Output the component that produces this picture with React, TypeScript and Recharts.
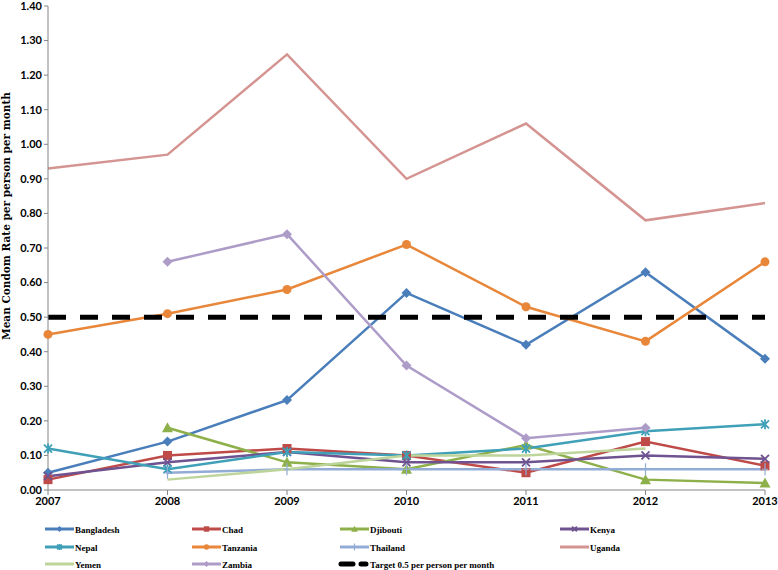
import React from 'react';
import { LineChart, Line, XAxis, YAxis } from 'recharts';

const years = ['2007', '2008', '2009', '2010', '2011', '2012', '2013'];
const bangladesh = [0.05, 0.14, 0.26, 0.57, 0.42, 0.63, 0.38];
const chad = [0.03, 0.1, 0.12, 0.1, 0.05, 0.14, 0.07];
const djibouti = [null, 0.18, 0.08, 0.06, 0.13, 0.03, 0.02];
const kenya = [0.04, 0.08, 0.11, 0.08, 0.08, 0.1, 0.09];
const nepal = [0.12, 0.06, 0.11, 0.1, 0.12, 0.17, 0.19];
const tanzania = [0.45, 0.51, 0.58, 0.71, 0.53, 0.43, 0.66];
const thailand = [null, 0.05, 0.06, 0.06, 0.06, 0.06, 0.06];
const uganda = [0.93, 0.97, 1.26, 0.9, 1.06, 0.78, 0.83];
const yemen = [null, 0.03, 0.06, 0.1, 0.1, 0.12, null];
const zambia = [null, 0.66, 0.74, 0.36, 0.15, 0.18, null];
const target = [0.5, 0.5, 0.5, 0.5, 0.5, 0.5, 0.5];
const yTicks = [0, 0.1, 0.2, 0.3, 0.4, 0.5, 0.6, 0.7, 0.8, 0.9, 1.0, 1.1, 1.2, 1.3, 1.4];

type Marker = 'diamond' | 'square' | 'triangle' | 'x' | 'star' | 'circle' | 'plus' | 'none';

const series: { key: string; name: string; values: (number | null)[]; color: string; marker: Marker }[] = [
  { key: 'bangladesh', name: 'Bangladesh', values: bangladesh, color: '#4A7EBB', marker: 'diamond' },
  { key: 'chad', name: 'Chad', values: chad, color: '#BE4B48', marker: 'square' },
  { key: 'djibouti', name: 'Djibouti', values: djibouti, color: '#8EB04A', marker: 'triangle' },
  { key: 'kenya', name: 'Kenya', values: kenya, color: '#6F5290', marker: 'x' },
  { key: 'nepal', name: 'Nepal', values: nepal, color: '#3FA0B8', marker: 'star' },
  { key: 'tanzania', name: 'Tanzania', values: tanzania, color: '#E8873A', marker: 'circle' },
  { key: 'thailand', name: 'Thailand', values: thailand, color: '#93ACD6', marker: 'plus' },
  { key: 'uganda', name: 'Uganda', values: uganda, color: '#D49492', marker: 'none' },
  { key: 'yemen', name: 'Yemen', values: yemen, color: '#BDD49A', marker: 'none' },
  { key: 'zambia', name: 'Zambia', values: zambia, color: '#AD9CC8', marker: 'diamond' },
];

const data = years.map((year, i) => {
  const row: Record<string, string | number | null> = { year, target: target[i] };
  series.forEach((s) => {
    row[s.key] = s.values[i];
  });
  return row;
});

function markerShape(marker: Marker, color: string, cx: number, cy: number, k?: string, s = 1) {
  switch (marker) {
    case 'diamond':
      return <path key={k} d={`M${cx},${cy - 5 * s}L${cx + 5 * s},${cy}L${cx},${cy + 5 * s}L${cx - 5 * s},${cy}Z`} fill={color} />;
    case 'square':
      return <rect key={k} x={cx - 4.5 * s} y={cy - 4.5 * s} width={9 * s} height={9 * s} fill={color} />;
    case 'triangle':
      return <path key={k} d={`M${cx},${cy - 5.5 * s}L${cx + 5.5 * s},${cy + 4.5 * s}L${cx - 5.5 * s},${cy + 4.5 * s}Z`} fill={color} />;
    case 'x':
      return (
        <path
          key={k}
          d={`M${cx - 4 * s},${cy - 4 * s}L${cx + 4 * s},${cy + 4 * s}M${cx - 4 * s},${cy + 4 * s}L${cx + 4 * s},${cy - 4 * s}`}
          stroke={color}
          strokeWidth={1.8}
        />
      );
    case 'star':
      return (
        <path
          key={k}
          d={`M${cx - 4 * s},${cy - 4 * s}L${cx + 4 * s},${cy + 4 * s}M${cx - 4 * s},${cy + 4 * s}L${cx + 4 * s},${cy - 4 * s}M${cx},${cy - 5 * s}L${cx},${cy + 5 * s}`}
          stroke={color}
          strokeWidth={1.8}
        />
      );
    case 'circle':
      return <circle key={k} cx={cx} cy={cy} r={4.5 * s} fill={color} />;
    case 'plus':
      return (
        <path key={k} d={`M${cx},${cy - 6 * s}L${cx},${cy + 6 * s}M${cx - 3 * s},${cy}L${cx + 3 * s},${cy}`} stroke={color} strokeWidth={1.2} />
      );
    default:
      return <g key={k} />;
  }
}

const legendCols = [45, 192, 340, 560];
const legendRows = [529, 547, 564];

function ChartLegend() {
  const items = [
    ...series.map((s) => ({ name: s.name, color: s.color, marker: s.marker, dashed: false })),
    { name: 'Target 0.5 per person per month', color: '#000000', marker: 'none' as Marker, dashed: true },
  ];
  return (
    <svg width={778} height={570} style={{ position: 'absolute', left: 0, top: 0, pointerEvents: 'none' }}>
      {items.map((it, i) => {
        const x = legendCols[i % 4];
        const y = legendRows[Math.floor(i / 4)];
        return (
          <g key={it.name}>
            {it.dashed ? (
              <path d={`M${x + 1},${y}L${x + 13},${y}M${x + 21},${y}L${x + 26},${y}`} stroke="#000" strokeWidth={5} strokeLinecap="round" />
            ) : (
              <line x1={x} y1={y} x2={x + 29} y2={y} stroke={it.color} strokeWidth={3} />
            )}
            {!it.dashed && markerShape(it.marker, it.color, x + 14.5, y, undefined, 0.6)}
            <text
              x={x + 30}
              y={y + 3.5}
              fontFamily="'Liberation Serif', serif"
              fontWeight="bold"
              fontSize={9}
              fill="#000"
            >
              {it.name}
            </text>
          </g>
        );
      })}
    </svg>
  );
}

export default function App() {
  return (
    <div style={{ position: 'absolute', left: 0, top: 0, width: 778, height: 570, background: '#fff' }}>
      <LineChart width={778} height={570} data={data} margin={{ top: 6, right: 13, left: 0, bottom: 60 }}>
        <XAxis
          dataKey="year"
          height={20}
          stroke="#868686"
          tickSize={5}
          tick={{ fill: '#000', fontSize: 11, fontWeight: 'bold', fontFamily: 'Lato, sans-serif' }}
          interval={0}
        />
        <YAxis
          width={48}
          domain={[0, 1.4]}
          ticks={yTicks}
          interval={0}
          stroke="#868686"
          tickSize={4}
          tickFormatter={(v: number) => v.toFixed(2)}
          tick={{ fill: '#000', fontSize: 11, fontWeight: 'bold', fontFamily: 'Lato, sans-serif' }}
          label={{
            content: () => (
              <text
                x={0}
                y={0}
                transform="translate(10,216) rotate(-90)"
                textAnchor="middle"
                fontFamily="'DejaVu Serif', serif"
                fontWeight="bold"
                fontSize={10.5}
                fill="#000"
              >
                Mean Condom Rate per person per month
              </text>
            ),
          }}
        />
        {series.map((s) => (
          <Line
            key={s.key}
            dataKey={s.key}
            name={s.name}
            stroke={s.color}
            strokeWidth={2.5}
            isAnimationActive={false}
            connectNulls={false}
            activeDot={false}
            dot={(p: any) => {
              if (p.cx == null || p.cy == null || p.value == null) return <g key={p.key} />;
              return markerShape(s.marker, s.color, p.cx, p.cy, p.key);
            }}
          />
        ))}
        <Line
          dataKey="target"
          name="Target 0.5 per person per month"
          stroke="#000"
          strokeWidth={5}
          strokeDasharray="18 14"
          dot={false}
          activeDot={false}
          isAnimationActive={false}
        />
      </LineChart>
      <ChartLegend />
    </div>
  );
}
